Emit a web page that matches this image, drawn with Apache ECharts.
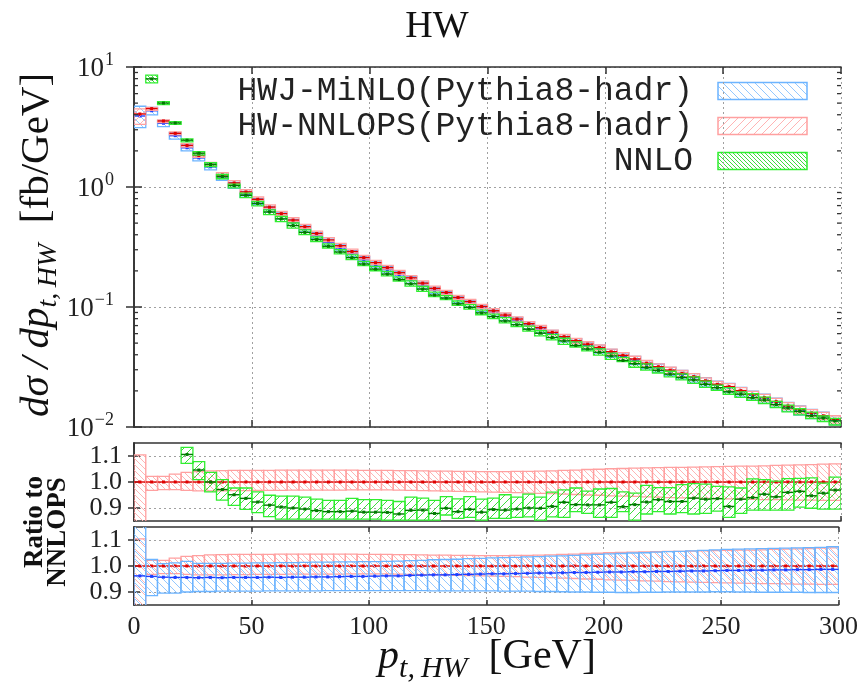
<!DOCTYPE html>
<html><head><meta charset="utf-8">
<script src="https://cdn.jsdelivr.net/npm/echarts@6/dist/echarts.min.js"></script>
<style>html,body{margin:0;padding:0;background:#fff}#c{width:861px;height:693px}</style>
</head><body><div id="c"></div><script>
// ---- data ----
const binLow = [0,5,10,15,20,25,30,35,40,45,50,55,60,65,70,75,80,85,90,95,
  100,105,110,115,120,125,130,135,140,145,150,155,160,165,170,175,180,185,190,195,
  200,205,210,215,220,225,230,235,240,245,250,255,260,265,270,275,280,285,290,295];
const binWidth = 5;
const ratioTicks = [0.9,1.0,1.1];
const logMinorTicks = [0.02,0.03,0.04,0.05,0.06,0.07,0.08,0.09,0.2,0.3,0.4,0.5,0.6,0.7,0.8,0.9,2,3,4,5,6,7,8,9];

// HW-NNLOPS central value dσ/dpt [fb/GeV]
const nnlops = [4.06,4.50,3.55,2.80,2.22,1.83,1.54,1.26,1.08,0.91,
  0.79,0.68,0.60,0.53,0.467,0.41,0.362,0.324,0.290,0.258,
  0.234,0.213,0.193,0.175,0.158,0.143,0.132,0.120,0.111,0.101,
  0.093,0.0857,0.0794,0.0726,0.0673,0.0615,0.0566,0.0524,0.0490,0.0460,
  0.0424,0.0396,0.0369,0.0340,0.0318,0.0298,0.0280,0.0263,0.0243,0.0227,
  0.0217,0.0201,0.0187,0.0176,0.0163,0.0150,0.0140,0.0131,0.0124,0.0116];
// NNLOPS band (ratio to NNLOPS)
const nnlopsHi = [1.104,1.022,1.022,1.030,1.037,1.040,1.043,1.044,1.045,1.045,
  1.045,1.045,1.046,1.046,1.046,1.046,1.046,1.046,1.046,1.045,
  1.045,1.045,1.044,1.044,1.043,1.042,1.042,1.041,1.041,1.040,
  1.040,1.040,1.041,1.041,1.042,1.043,1.045,1.046,1.048,1.049,
  1.051,1.052,1.053,1.054,1.055,1.056,1.056,1.057,1.058,1.059,
  1.060,1.061,1.061,1.062,1.064,1.065,1.066,1.067,1.069,1.070];
const nnlopsLo = [0.820,0.968,0.971,0.971,0.968,0.966,0.966,0.966,0.967,0.967,
  0.968,0.968,0.968,0.969,0.969,0.969,0.969,0.969,0.970,0.970,
  0.970,0.970,0.969,0.968,0.967,0.966,0.965,0.964,0.963,0.962,
  0.961,0.960,0.959,0.957,0.956,0.955,0.953,0.952,0.950,0.949,
  0.947,0.946,0.945,0.943,0.942,0.940,0.939,0.938,0.937,0.936,
  0.935,0.934,0.933,0.932,0.932,0.931,0.930,0.930,0.929,0.929];
// HWJ-MiNLO ratio to NNLOPS and its band
const minloR = [0.962,0.960,0.957,0.956,0.956,0.955,0.956,0.955,0.956,0.956,
  0.956,0.957,0.956,0.957,0.957,0.958,0.958,0.959,0.960,0.960,
  0.961,0.962,0.962,0.964,0.965,0.966,0.966,0.967,0.968,0.969,
  0.970,0.970,0.971,0.972,0.973,0.973,0.974,0.975,0.975,0.976,
  0.977,0.977,0.978,0.978,0.979,0.979,0.980,0.981,0.981,0.982,
  0.983,0.983,0.984,0.984,0.985,0.985,0.986,0.986,0.987,0.987];
const minloHi = [1.160,1.025,1.009,1.012,1.018,1.010,1.010,1.010,1.011,1.011,
  1.012,1.012,1.013,1.013,1.014,1.015,1.015,1.016,1.016,1.017,
  1.017,1.018,1.019,1.021,1.022,1.024,1.025,1.026,1.028,1.029,
  1.031,1.032,1.033,1.035,1.036,1.038,1.039,1.041,1.043,1.045,
  1.047,1.048,1.050,1.051,1.053,1.055,1.056,1.058,1.060,1.062,
  1.064,1.065,1.066,1.067,1.068,1.069,1.070,1.071,1.072,1.074];
const minloLo = [0.770,0.886,0.896,0.896,0.900,0.902,0.902,0.903,0.903,0.903,
  0.903,0.904,0.904,0.904,0.904,0.904,0.905,0.905,0.905,0.905,
  0.905,0.905,0.905,0.905,0.905,0.904,0.904,0.904,0.904,0.904,
  0.904,0.903,0.903,0.903,0.902,0.902,0.901,0.900,0.900,0.899,
  0.899,0.898,0.898,0.899,0.899,0.900,0.900,0.900,0.900,0.901,
  0.901,0.900,0.900,0.899,0.899,0.899,0.899,0.898,0.898,0.898];
// NNLO ratio to NNLOPS and its band (no value in first bin)
const nnloR = [null,1.77,1.41,1.22,1.106,1.046,1.000,0.971,0.951,0.937,
  0.923,0.911,0.904,0.900,0.896,0.890,0.886,0.886,0.888,0.884,
  0.884,0.883,0.877,0.891,0.892,0.879,0.899,0.886,0.895,0.884,
  0.894,0.892,0.896,0.900,0.899,0.906,0.922,0.913,0.912,0.912,
  0.922,0.905,0.913,0.923,0.932,0.925,0.925,0.938,0.934,0.936,
  0.906,0.934,0.940,0.953,0.943,0.960,0.964,0.947,0.957,0.969];
const nnloHi = [null,1.90,1.45,1.25,1.133,1.078,1.037,1.009,0.977,0.977,
  0.962,0.949,0.946,0.946,0.942,0.934,0.929,0.929,0.937,0.932,
  0.932,0.929,0.925,0.942,0.938,0.929,0.944,0.935,0.944,0.934,
  0.938,0.951,0.942,0.953,0.942,0.961,0.970,0.977,0.965,0.973,
  0.975,0.962,0.957,0.987,0.978,0.978,0.990,0.994,0.992,0.983,
  0.981,0.977,1.012,1.009,1.003,1.013,1.014,1.016,0.996,1.019];
const nnloLo = [null,1.64,1.37,1.19,1.072,1.009,0.962,0.930,0.910,0.895,
  0.882,0.867,0.857,0.857,0.857,0.857,0.857,0.857,0.857,0.857,
  0.857,0.853,0.853,0.853,0.853,0.853,0.873,0.860,0.864,0.853,
  0.860,0.860,0.864,0.866,0.853,0.866,0.864,0.886,0.879,0.864,
  0.864,0.886,0.853,0.877,0.886,0.877,0.882,0.877,0.879,0.888,
  0.864,0.879,0.892,0.892,0.892,0.892,0.903,0.899,0.896,0.896];
const legendNames = ['HWJ-MiNLO(Pythia8-hadr)','HW-NNLOPS(Pythia8-hadr)','NNLO'];

// ---- styling ----
const SERIF = '"Liberation Serif", "DejaVu Serif", serif';
const C = {
  blue:  {box:'#6cb4ff', hatch:'#94c8ff', line:'#1f3fff'},
  red:   {box:'#ffa0a0', hatch:'#ffb4b4', line:'#e00000'},
  green: {box:'#30ee30', hatch:'#40dd40', line:'#007a00'}
};
function hatch(color, size, dir, lw) {
  const c = document.createElement('canvas');
  c.width = size; c.height = size;
  const g = c.getContext('2d');
  g.strokeStyle = color; g.lineWidth = lw;
  g.beginPath();
  for (let k = -1; k <= 1; k++) {
    if (dir === '/') { g.moveTo(k*size, size); g.lineTo(k*size+size, 0); }
    else { g.moveTo(k*size, 0); g.lineTo(k*size+size, size); }
  }
  g.stroke();
  return {image: c, repeat: 'repeat'};
}
const P = {
  blueTop: hatch(C.blue.hatch, 8, '\\', 1),
  redTop: hatch(C.red.hatch, 8, '/', 1),
  greenTop: hatch(C.green.hatch, 4, '\\', 1),
  redRat: hatch(C.red.hatch, 6, '\\', 1),
  greenRat: hatch(C.green.hatch, 8, '/', 1),
  blueRat: hatch(C.blue.hatch, 8, '\\', 1)
};

function bandData(base, cR, loR, hiR) {
  const out = [];
  for (let i = 0; i < binLow.length; i++) {
    if (cR[i] == null) continue;
    const b = base ? base[i] : 1;
    out.push([binLow[i], binLow[i] + binWidth, b*loR[i], b*hiR[i], b*cR[i]]);
  }
  return out;
}
const ones = nnlops.map(() => 1);

function makeRender(col, fill) {
  return function (params, api) {
    const x0 = api.value(0), x1 = api.value(1), lo = api.value(2), hi = api.value(3), c = api.value(4);
    const a = api.coord([x0, hi]), b = api.coord([x1, lo]);
    const m0 = api.coord([x0, c]), m1 = api.coord([x1, c]);
    const mx = (m0[0] + m1[0]) / 2;
    return {type: 'group', children: [
      {type: 'rect', shape: {x: a[0], y: a[1], width: b[0]-a[0], height: b[1]-a[1]},
        style: {fill: fill, stroke: col.box, lineWidth: 1.3}},
      {type: 'line', shape: {x1: m0[0], y1: m0[1], x2: m1[0], y2: m1[1]},
        style: {stroke: col.line, lineWidth: 1.4}},
      {type: 'rect', shape: {x: mx-1.5, y: m0[1]-1.5, width: 3, height: 3}, style: {fill: col.line}}
    ]};
  };
}
function band(ax, data, col, fill, z) {
  return {type: 'custom', xAxisIndex: ax, yAxisIndex: ax, data: data, clip: true, silent: true, z: z,
    encode: {x: [0, 1], y: [2, 3]}, renderItem: makeRender(col, fill)};
}

const frame = {show: true, lineStyle: {color: '#333', width: 1.6}};
const dotted = {show: true, lineStyle: {color: '#a0a0a0', width: 1, type: [2, 3]}};
function xAx(grid, pos, showLabel, split, tickLen) {
  return {type: 'value', gridIndex: grid, position: pos, min: 0, max: 300, interval: 50,
    axisLine: frame, axisTick: {show: true, inside: true, length: tickLen, lineStyle: {color: '#333', width: 1.5}},
    axisLabel: {show: showLabel, fontFamily: SERIF, fontSize: 26, color: '#222', margin: 9},
    splitLine: split ? dotted : {show: false}};
}
function ratioY(grid, pos, showLabel, split) {
  return {type: 'value', gridIndex: grid, position: pos, min: 0.85, max: 1.15,
    axisLine: frame,
    axisTick: {show: true, inside: true, length: 6, customValues: ratioTicks.slice(), lineStyle: {color: '#333', width: 1.5}},
    axisLabel: {show: showLabel, customValues: ratioTicks.slice(), hideOverlap: false, fontFamily: SERIF, fontSize: 26, color: '#222', margin: 12,
      formatter: v => v.toFixed(1)},
    splitLine: split ? dotted : {show: false}};
}
function logY(pos, showLabel, split) {
  return {type: 'log', logBase: 10, gridIndex: 0, position: pos, min: 0.01, max: 10,
    axisLine: frame,
    axisTick: {show: true, inside: true, length: 8, lineStyle: {color: '#333', width: 1.5}},
    axisLabel: {show: showLabel, margin: 20, color: '#222',
      formatter: v => {
        const e = Math.round(Math.log10(v));
        return '{b|10}{s|' + (e < 0 ? '\u2212' + (-e) : e) + '}';
      },
      rich: {
        b: {fontFamily: SERIF, fontSize: 27, color: '#222', verticalAlign: 'bottom'},
        s: {fontFamily: SERIF, fontSize: 18, color: '#222', verticalAlign: 'bottom', padding: [0, 0, 13, 1]}
      }},
    splitLine: split ? dotted : {show: false}};
}

const minorSeries = {
  type: 'custom', xAxisIndex: 0, yAxisIndex: 0, silent: true, z: 5,
  data: logMinorTicks.map(v => [v]), encode: {y: 0},
  renderItem: function (params, api) {
    const v = api.value(0);
    const l = api.coord([0, v]), r = api.coord([300, v]);
    return {type: 'group', children: [
      {type: 'line', shape: {x1: l[0], y1: l[1], x2: l[0]+4, y2: l[1]}, style: {stroke: '#333', lineWidth: 1.3}},
      {type: 'line', shape: {x1: r[0], y1: r[1], x2: r[0]-4, y2: r[1]}, style: {stroke: '#333', lineWidth: 1.3}}
    ]};
  }
};

const legendY = [91, 126, 161];
const legendFill = [P.blueTop, P.redTop, P.greenTop];
const legendCol = [C.blue, C.red, C.green];
const graphics = [
  {type: 'text', x: 437, y: 27, style: {text: 'HW', font: '38px ' + SERIF, fill: '#111', align: 'center', verticalAlign: 'middle'}},
  {type: 'text', x: 40, y: 245, rotation: Math.PI / 2,
    style: {text: '{i|dσ\u2009/\u2009dp}{s|t,\u2009HW}{n|  [fb/GeV]}', align: 'center', verticalAlign: 'middle', fill: '#111',
      rich: {
        i: {fontFamily: SERIF, fontStyle: 'italic', fontSize: 41, verticalAlign: 'top'},
        s: {fontFamily: SERIF, fontStyle: 'italic', fontSize: 28, verticalAlign: 'top', padding: [18, 0, 0, 0]},
        n: {fontFamily: SERIF, fontSize: 41, verticalAlign: 'top'}
      }}},
  {type: 'text', x: 487, y: 660,
    style: {text: '{i|p}{s|t,\u2009HW}{n|\u2002[GeV]}', align: 'center', verticalAlign: 'middle', fill: '#111',
      rich: {
        i: {fontFamily: SERIF, fontStyle: 'italic', fontSize: 42, verticalAlign: 'top'},
        s: {fontFamily: SERIF, fontStyle: 'italic', fontSize: 30, verticalAlign: 'top', padding: [18, 0, 0, 0]},
        n: {fontFamily: SERIF, fontSize: 42, verticalAlign: 'top'}
      }}},
  {type: 'text', x: 35, y: 522, rotation: Math.PI / 2,
    style: {text: 'Ratio to', font: 'bold 27px ' + SERIF, fill: '#111', align: 'center', verticalAlign: 'middle'}},
  {type: 'text', x: 58, y: 532, rotation: Math.PI / 2,
    style: {text: 'NNLOPS', font: 'bold 27px ' + SERIF, fill: '#111', align: 'center', verticalAlign: 'middle'}}
];
legendNames.forEach((n, i) => {
  graphics.push({type: 'text', x: 693, y: legendY[i],
    style: {text: n, font: '33px "Liberation Mono", "DejaVu Sans Mono", monospace', fill: '#222', align: 'right', verticalAlign: 'middle'}});
  graphics.push({type: 'rect', shape: {x: 718, y: legendY[i] - 8.5, width: 89, height: 17},
    style: {fill: legendFill[i], stroke: legendCol[i].box, lineWidth: 1.5}});
});

const chart = echarts.init(document.getElementById('c'), null, {renderer: 'canvas'});
chart.setOption({
  animation: false,
  backgroundColor: '#fff',
  grid: [
    {left: 134, right: 20, top: 67, height: 360},
    {left: 134, right: 20, top: 443, height: 78},
    {left: 134, right: 20, top: 527, height: 78}
  ],
  xAxis: [
    xAx(0, 'bottom', false, true, 7), xAx(0, 'top', false, false, 7),
    xAx(1, 'bottom', false, true, 5), xAx(1, 'top', false, false, 5),
    xAx(2, 'bottom', true, true, 5), xAx(2, 'top', false, false, 5)
  ],
  yAxis: [
    logY('left', true, true), logY('right', false, false),
    ratioY(1, 'left', true, true), ratioY(1, 'right', false, false),
    ratioY(2, 'left', true, true), ratioY(2, 'right', false, false)
  ],
  series: [
    band(0, bandData(nnlops, minloR, minloLo, minloHi), C.blue, P.blueTop, 3),
    band(0, bandData(nnlops, ones, nnlopsLo, nnlopsHi), C.red, P.redTop, 4),
    band(0, bandData(nnlops, nnloR, nnloLo, nnloHi), C.green, P.greenTop, 5),
    minorSeries,
    band(2, bandData(null, ones, nnlopsLo, nnlopsHi), C.red, P.redRat, 3),
    band(2, bandData(null, nnloR, nnloLo, nnloHi), C.green, P.greenRat, 4),
    band(4, bandData(null, ones, nnlopsLo, nnlopsHi), C.red, P.redRat, 3),
    band(4, bandData(null, minloR, minloLo, minloHi), C.blue, P.blueRat, 4)
  ],
  graphic: graphics
});
</script></body></html>
